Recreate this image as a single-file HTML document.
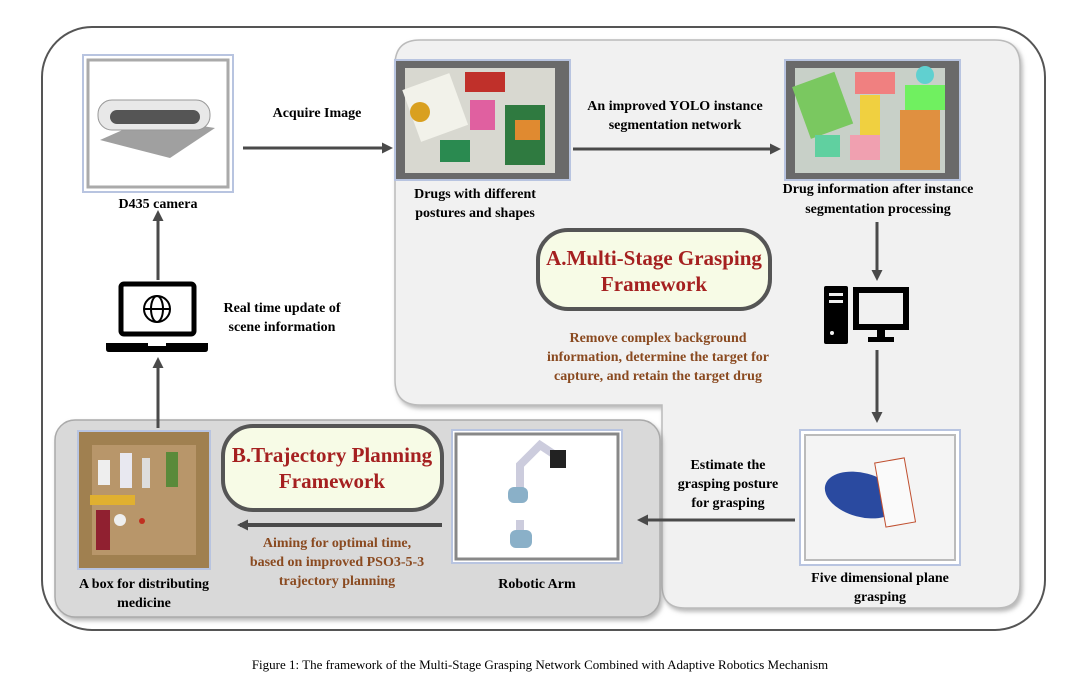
<!DOCTYPE html>
<html><head><meta charset="utf-8"><style>
html,body{margin:0;padding:0;background:#fff;}
svg{display:block;}
text{font-family:"Liberation Serif",serif;font-weight:bold;}
</style></head><body>
<svg width="1080" height="683" viewBox="0 0 1080 683" xmlns="http://www.w3.org/2000/svg">
<defs>
<marker id="ah" markerWidth="11" markerHeight="11" refX="8" refY="5.5" orient="auto" markerUnits="userSpaceOnUse"><path d="M0,0 L11,5.5 L0,11 z" fill="#4a4a4a"/></marker>
<filter id="sh" x="-5%" y="-5%" width="110%" height="115%"><feDropShadow dx="2" dy="3" stdDeviation="2" flood-color="#888" flood-opacity="0.6"/></filter>
</defs>
<rect x="42" y="27" width="1003" height="603" rx="50" fill="#fff" stroke="#555" stroke-width="2"/>
<path d="M420,40 H995 Q1020,40 1020,65 V585 Q1020,608 997,608 H685 Q662,608 662,585 V405 H420 Q395,405 395,380 V65 Q395,40 420,40 Z" fill="#f1f1f1" stroke="#bbb" stroke-width="1.5" filter="url(#sh)"/>
<rect x="55" y="420" width="605" height="197" rx="20" fill="#d9d9d9" stroke="#aaa" stroke-width="1.5" filter="url(#sh)"/>

<rect x="83" y="55" width="150" height="137" fill="#fff" stroke="#b8c4e0" stroke-width="2"/>
<rect x="88" y="60" width="140" height="127" fill="none" stroke="#aaa" stroke-width="3"/>
<path d="M100,140 L150,118 L215,128 L170,158 Z" fill="#888" opacity="0.8"/>
<rect x="98" y="100" width="112" height="30" rx="14" fill="#e8e8e8" stroke="#999"/>
<rect x="110" y="110" width="90" height="14" rx="7" fill="#555"/>
<text x="158" y="208" font-size="14" text-anchor="middle">D435 camera</text>

<rect x="395" y="60" width="175" height="120" fill="#6a6a6a" stroke="#b8c4e0" stroke-width="2"/>
<rect x="405" y="68" width="150" height="105" fill="#d8d8d0"/>
<rect x="410" y="80" width="50" height="55" fill="#f2f2ea" transform="rotate(-20 435 107)"/>
<circle cx="420" cy="112" r="10" fill="#d9a020"/>
<rect x="465" y="72" width="40" height="20" fill="#c0302a"/>
<rect x="505" y="105" width="40" height="60" fill="#2f7a40"/>
<rect x="515" y="120" width="25" height="20" fill="#e08a30"/>
<rect x="440" y="140" width="30" height="22" fill="#2a8a50"/>
<rect x="470" y="100" width="25" height="30" fill="#e060a0"/>
<text x="475" y="198" font-size="14" text-anchor="middle">Drugs with different</text>
<text x="475" y="217" font-size="14" text-anchor="middle">postures and shapes</text>

<rect x="785" y="60" width="175" height="120" fill="#6a6a6a" stroke="#b8c4e0" stroke-width="2"/>
<rect x="795" y="68" width="150" height="105" fill="#c8d0c8"/>
<rect x="800" y="78" width="45" height="55" fill="#7ac860" transform="rotate(-20 822 105)"/>
<rect x="855" y="72" width="40" height="22" fill="#f08080"/>
<rect x="905" y="85" width="40" height="25" fill="#70f060"/>
<rect x="900" y="110" width="40" height="60" fill="#e09040"/>
<rect x="860" y="95" width="20" height="60" fill="#f0d040"/>
<circle cx="925" cy="75" r="9" fill="#60d0d0"/>
<rect x="815" y="135" width="25" height="22" fill="#60d0a0"/>
<rect x="850" y="135" width="30" height="25" fill="#f0a0b0"/>
<text x="878" y="193" font-size="14" text-anchor="middle">Drug information after instance</text>
<text x="878" y="213" font-size="14" text-anchor="middle">segmentation processing</text>

<line x1="243" y1="148" x2="390" y2="148" stroke="#4a4a4a" stroke-width="3" marker-end="url(#ah)"/>
<text x="317" y="117" font-size="14" text-anchor="middle">Acquire Image</text>
<line x1="573" y1="149" x2="778" y2="149" stroke="#4a4a4a" stroke-width="3" marker-end="url(#ah)"/>
<text x="675" y="110" font-size="14" text-anchor="middle">An improved YOLO instance</text>
<text x="675" y="129" font-size="14" text-anchor="middle">segmentation network</text>

<rect x="538" y="230" width="232" height="79" rx="30" fill="#f7fbe6" stroke="#555" stroke-width="4"/>
<text x="654" y="265" font-size="21" fill="#a52020" text-anchor="middle">A.Multi-Stage Grasping</text>
<text x="654" y="291" font-size="21" fill="#a52020" text-anchor="middle">Framework</text>
<text x="658" y="342" font-size="14" fill="#8a4a20" text-anchor="middle">Remove complex background</text>
<text x="658" y="361" font-size="14" fill="#8a4a20" text-anchor="middle">information, determine the target for</text>
<text x="658" y="380" font-size="14" fill="#8a4a20" text-anchor="middle">capture, and retain the target drug</text>

<line x1="877" y1="222" x2="877" y2="278" stroke="#4a4a4a" stroke-width="3" marker-end="url(#ah)"/>
<rect x="824" y="286" width="24" height="58" rx="2" fill="#000"/>
<rect x="829" y="293" width="14" height="3" fill="#f1f1f1"/>
<rect x="829" y="300" width="14" height="3" fill="#f1f1f1"/>
<circle cx="832" cy="333" r="2" fill="#f1f1f1"/>
<rect x="853" y="287" width="56" height="43" fill="#000"/>
<rect x="859" y="293" width="44" height="31" fill="#f1f1f1"/>
<rect x="877" y="330" width="8" height="8" fill="#000"/>
<rect x="868" y="337" width="26" height="5" fill="#000"/>
<line x1="877" y1="350" x2="877" y2="420" stroke="#4a4a4a" stroke-width="3" marker-end="url(#ah)"/>

<rect x="800" y="430" width="160" height="135" fill="#fff" stroke="#b8c4e0" stroke-width="2"/>
<rect x="805" y="435" width="150" height="125" fill="#f4f4f4" stroke="#bbb" stroke-width="2"/>
<ellipse cx="862" cy="495" rx="38" ry="22" fill="#2a4aa0" transform="rotate(15 862 495)"/>
<rect x="880" y="460" width="30" height="65" fill="#fafafa" stroke="#c05030" transform="rotate(-10 895 492)"/>
<text x="880" y="582" font-size="14" text-anchor="middle">Five dimensional plane</text>
<text x="880" y="601" font-size="14" text-anchor="middle">grasping</text>

<line x1="795" y1="520" x2="640" y2="520" stroke="#4a4a4a" stroke-width="3" marker-end="url(#ah)"/>
<text x="728" y="469" font-size="14" text-anchor="middle">Estimate the</text>
<text x="728" y="488" font-size="14" text-anchor="middle">grasping posture</text>
<text x="728" y="507" font-size="14" text-anchor="middle">for grasping</text>

<rect x="452" y="430" width="170" height="133" fill="#fff" stroke="#b8c4e0" stroke-width="2"/>
<rect x="456" y="434" width="162" height="125" fill="#fff" stroke="#888" stroke-width="3"/>
<path d="M520,545 V520 M520,495 V465 L540,445 L555,455" stroke="#ccd" stroke-width="8" fill="none"/>
<rect x="510" y="530" width="22" height="18" rx="6" fill="#8ab0c8"/>
<rect x="508" y="487" width="20" height="16" rx="6" fill="#8ab0c8"/>
<rect x="550" y="450" width="16" height="18" fill="#222"/>
<text x="537" y="588" font-size="14" text-anchor="middle">Robotic Arm</text>

<rect x="223" y="426" width="219" height="84" rx="30" fill="#f7fbe6" stroke="#555" stroke-width="4"/>
<text x="332" y="462" font-size="21" fill="#a52020" text-anchor="middle">B.Trajectory Planning</text>
<text x="332" y="488" font-size="21" fill="#a52020" text-anchor="middle">Framework</text>

<line x1="442" y1="525" x2="240" y2="525" stroke="#4a4a4a" stroke-width="4" marker-end="url(#ah)"/>
<text x="337" y="547" font-size="14" fill="#8a4a20" text-anchor="middle">Aiming for optimal time,</text>
<text x="337" y="566" font-size="14" fill="#8a4a20" text-anchor="middle">based on improved PSO3-5-3</text>
<text x="337" y="585" font-size="14" fill="#8a4a20" text-anchor="middle">trajectory planning</text>

<rect x="78" y="431" width="132" height="138" fill="#a08050" stroke="#b8c4e0" stroke-width="2"/>
<rect x="92" y="445" width="104" height="110" fill="#b8966a"/>
<rect x="98" y="460" width="12" height="25" fill="#eee"/>
<rect x="120" y="453" width="12" height="35" fill="#e8e8f0"/>
<rect x="142" y="458" width="8" height="30" fill="#ddd"/>
<rect x="166" y="452" width="12" height="35" fill="#5a8a3a"/>
<rect x="90" y="495" width="45" height="10" fill="#e0b030"/>
<rect x="96" y="510" width="14" height="40" fill="#902030"/>
<circle cx="120" cy="520" r="6" fill="#eee"/>
<circle cx="142" cy="521" r="3" fill="#c03020"/>
<text x="144" y="588" font-size="14" text-anchor="middle">A box for distributing</text>
<text x="144" y="607" font-size="14" text-anchor="middle">medicine</text>

<line x1="158" y1="428" x2="158" y2="360" stroke="#4a4a4a" stroke-width="3" marker-end="url(#ah)"/>
<rect x="121" y="284" width="73" height="50" rx="3" fill="#fff" stroke="#000" stroke-width="5"/>
<path d="M106,343 H208 V349 Q208,352 205,352 H109 Q106,352 106,349 Z" fill="#000"/>
<rect x="148" y="343" width="18" height="3" fill="#fff"/>
<circle cx="157" cy="309" r="13" fill="none" stroke="#000" stroke-width="2"/>
<ellipse cx="157" cy="309" rx="6" ry="13" fill="none" stroke="#000" stroke-width="2"/>
<line x1="144" y1="309" x2="170" y2="309" stroke="#000" stroke-width="2"/>
<line x1="158" y1="280" x2="158" y2="213" stroke="#4a4a4a" stroke-width="3" marker-end="url(#ah)"/>
<text x="282" y="312" font-size="14" text-anchor="middle">Real time update of</text>
<text x="282" y="331" font-size="14" text-anchor="middle">scene information</text>

<text x="540" y="669" font-size="13" text-anchor="middle" style="font-weight:normal">Figure 1: The framework of the Multi-Stage Grasping Network Combined with Adaptive Robotics Mechanism</text>
</svg>
</body></html>
